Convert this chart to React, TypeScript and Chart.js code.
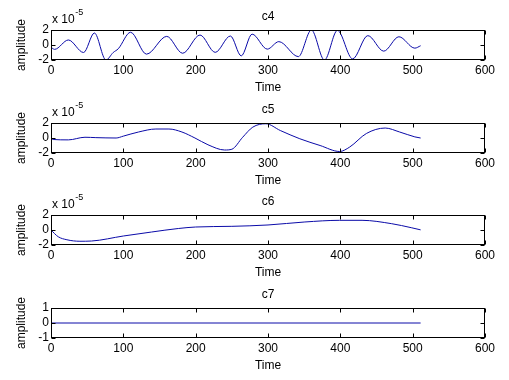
import React, { useEffect, useRef } from "react";
import { Chart, registerables } from "chart.js";

Chart.register(...registerables);

// ---- data (amplitudes in units of 1e-5) ----
const c4Time = [0, 5, 24, 45, 60, 76, 86, 93, 110, 132, 160, 182, 206, 227, 248, 263, 278, 299, 315, 342, 360, 378, 396, 417, 438, 460, 481, 503, 511];
const c4Amp = [-0.3, -0.58, 0.67, -1.0, 1.6, -2.0, -1.0, -0.5, 1.7, -1.22, 1.15, -1.1, 1.33, -0.98, 1.2, -1.45, 1.45, -0.55, 0.45, -1.55, 2.0, -2.0, 1.95, -1.85, 1.25, -0.82, 1.1, -0.42, -0.1];

const c5Time = [0, 3, 24, 47, 62, 90, 100, 121, 145, 163, 181, 199, 217, 240, 250, 265, 279, 297, 317, 344, 372, 399, 413, 436, 462, 482, 503, 511];
const c5Amp = [0.0, -0.2, -0.25, 0.1, 0.05, 0.0, 0.25, 0.8, 1.2, 1.2, 0.8, 0.0, -0.9, -1.6, -1.5, 0.1, 1.45, 1.9, 1.0, -0.1, -1.0, -1.8, -1.2, 0.6, 1.33, 0.8, 0.15, 0.0];

const c6Time = [0, 10, 22, 40, 56, 100, 139, 176, 200, 250, 300, 351, 399, 430, 471, 498, 511];
const c6Amp = [0.0, -0.9, -1.3, -1.5, -1.47, -0.8, -0.27, 0.2, 0.4, 0.49, 0.67, 1.07, 1.29, 1.29, 0.84, 0.31, 0.02];

const c7Time = [0, 511];
const c7Amp = [0, 0];

const xRange = [0, 600];
const xStep = 100;

const FONT = '"Liberation Sans", Arial, sans-serif';
const LINE_COLOR = "#0a0aa8";

const matlabAxes = {
  id: "matlabAxes",
  afterDatasetsDraw(chart: any, _args: any, opts: any) {
    const { ctx, chartArea: a, scales } = chart;
    ctx.save();
    ctx.strokeStyle = "#000";
    ctx.lineWidth = 1;
    const L = Math.round(a.left) + 0.5;
    const R = Math.round(a.right) - 0.5;
    const T = Math.round(a.top) + 0.5;
    const B = Math.round(a.bottom) - 0.5;
    ctx.strokeRect(L, T, R - L, B - T);
    ctx.beginPath();
    const tl = 4;
    scales.x.ticks.forEach((t: any) => {
      const px = Math.round(scales.x.getPixelForValue(t.value)) + 0.5;
      ctx.moveTo(px, B);
      ctx.lineTo(px, B - tl);
      ctx.moveTo(px, T);
      ctx.lineTo(px, T + tl);
    });
    scales.y.ticks.forEach((t: any) => {
      const py = Math.round(scales.y.getPixelForValue(t.value)) + 0.5;
      ctx.moveTo(L, py);
      ctx.lineTo(L + tl, py);
      ctx.moveTo(R, py);
      ctx.lineTo(R - tl, py);
    });
    ctx.stroke();
    if (opts && opts.exponent) {
      ctx.fillStyle = "#000";
      ctx.textBaseline = "alphabetic";
      ctx.textAlign = "left";
      ctx.font = `12px ${FONT}`;
      const base = "x 10";
      const x0 = a.left + 1;
      ctx.fillText(base, x0, a.top - 7);
      const w = ctx.measureText(base).width;
      ctx.font = `9px ${FONT}`;
      ctx.fillText(opts.exponent, x0 + w + 0.5, a.top - 15);
    }
    ctx.restore();
  },
};

type SubProps = {
  title: string;
  xs: number[];
  ys: number[];
  yMin: number;
  yMax: number;
  yStep: number;
  exponent?: string;
  top: number;
};

function SubPlot({ title, xs, ys, yMin, yMax, yStep, exponent, top }: SubProps) {
  const ref = useRef<HTMLCanvasElement | null>(null);
  useEffect(() => {
    if (!ref.current) return;
    const font = { family: FONT, size: 12, weight: "normal" as const };
    const chart = new Chart(ref.current, {
      type: "line",
      data: {
        datasets: [
          {
            data: xs.map((x, i) => ({ x, y: ys[i] })),
            borderColor: LINE_COLOR,
            borderWidth: 1,
            pointRadius: 0,
            cubicInterpolationMode: "monotone",
            fill: false,
          },
        ],
      },
      options: {
        responsive: false,
        animation: false,
        devicePixelRatio: 1,
        layout: { padding: { left: 0, right: 24, top: 0, bottom: 0 } },
        plugins: {
          legend: { display: false },
          tooltip: { enabled: false },
          title: {
            display: true,
            text: title,
            color: "#000",
            font,
            fullSize: false,
            padding: { top: 9, bottom: 6.6 },
          },
          // @ts-ignore
          matlabAxes: { exponent },
        },
        scales: {
          x: {
            type: "linear",
            min: xRange[0],
            max: xRange[1],
            grid: { display: false, drawTicks: false },
            border: { display: false },
            ticks: {
              stepSize: xStep,
              autoSkip: false,
              maxRotation: 0,
              padding: 3,
              color: "#000",
              font,
            },
            title: {
              display: true,
              text: "Time",
              color: "#000",
              font,
              padding: { top: 0, bottom: 0 },
            },
            afterFit: (s: any) => {
              s.height = 35;
            },
          },
          y: {
            type: "linear",
            min: yMin,
            max: yMax,
            grid: { display: false, drawTicks: false },
            border: { display: false },
            ticks: {
              stepSize: yStep,
              autoSkip: false,
              padding: 2,
              color: "#000",
              font,
            },
            title: {
              display: true,
              text: "amplitude",
              color: "#000",
              font,
              padding: { top: 14, bottom: 0 },
            },
            afterFit: (s: any) => {
              s.width = 51;
            },
          },
        },
      },
      plugins: [matlabAxes as any],
    });
    return () => chart.destroy();
  }, []);
  return (
    <canvas
      ref={ref}
      width={509}
      height={95}
      style={{ position: "absolute", left: 0, top, width: 509, height: 95 }}
    />
  );
}

export default function App() {
  return (
    <div
      style={{
        position: "fixed",
        left: 0,
        top: 0,
        width: 509,
        height: 380,
        background: "#fff",
        overflow: "hidden",
      }}
    >
      <SubPlot title="c4" xs={c4Time} ys={c4Amp} yMin={-2} yMax={2} yStep={2} exponent="-5" top={0} />
      <SubPlot title="c5" xs={c5Time} ys={c5Amp} yMin={-2} yMax={2} yStep={2} exponent="-5" top={93} />
      <SubPlot title="c6" xs={c6Time} ys={c6Amp} yMin={-2} yMax={2} yStep={2} exponent="-5" top={185} />
      <SubPlot title="c7" xs={c7Time} ys={c7Amp} yMin={-1} yMax={1} yStep={1} top={278} />
    </div>
  );
}
